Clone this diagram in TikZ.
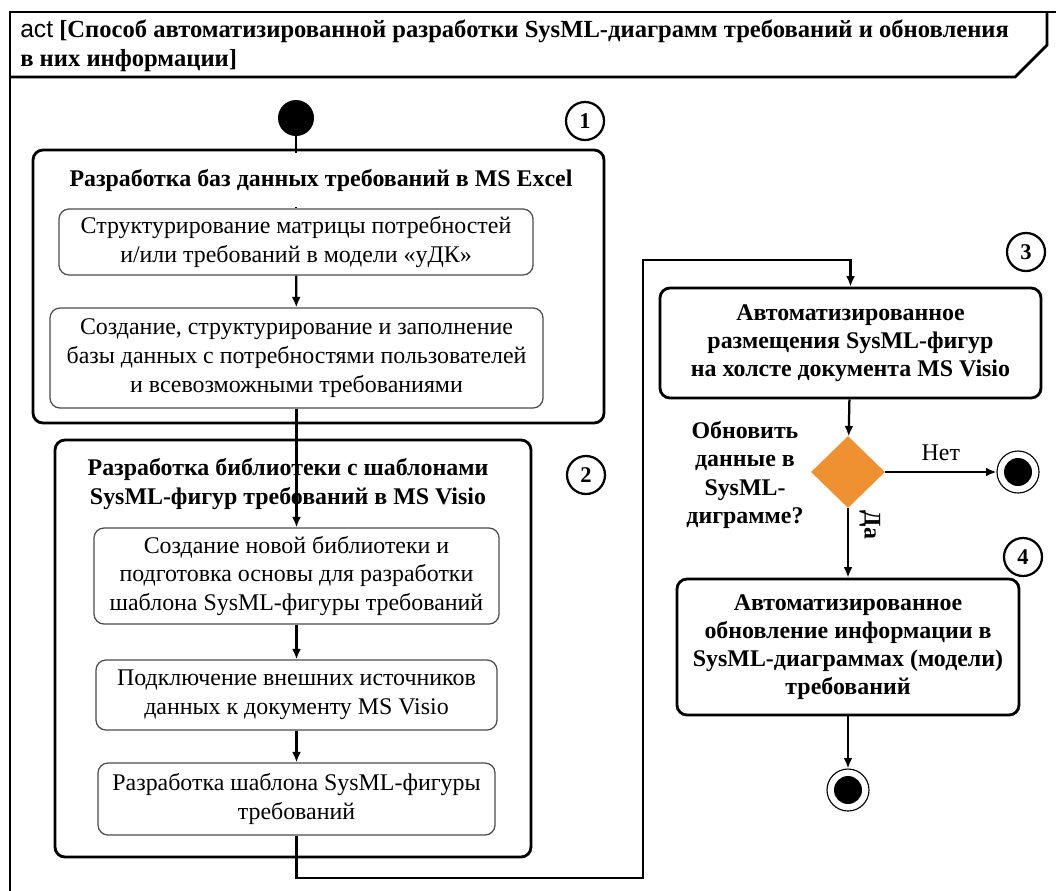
\documentclass[tikz,border=0pt]{standalone}
\usepackage{fontspec}
\setmainfont{Liberation Serif}
\newfontfamily\actfont{Liberation Sans}
\usetikzlibrary{shapes.geometric,arrows.meta}

\begin{document}
\begin{tikzpicture}[x=0.25mm,y=-0.25mm,
  every node/.style={font=\fontsize{17}{20.5}\selectfont},
  actbox/.style={draw,line width=2pt,rounded corners=2.5mm},
  subbox/.style={draw=black!70,line width=0.9pt,rounded corners=2.5mm,align=center,inner sep=1pt},
  boldbox/.style={actbox,align=center,font=\bfseries\fontsize{17}{19.8}\selectfont},
  num/.style={circle,draw,line width=1.6pt,minimum size=9.5mm,inner sep=0pt,font=\bfseries\fontsize{16}{16}\selectfont},
  flow/.style={line width=1.6pt,-{Latex[length=2.6mm,width=2.2mm]}},
  fin/.style={circle,draw,line width=0.8pt,minimum size=10.5mm,inner sep=0pt,
    path picture={\fill (path picture bounding box.center) circle (3.5mm);}}]

  \useasboundingbox (0,0) rectangle (1056,890);
  \clip (0,0) rectangle (1056,890);

  % frame and header
  \draw[line width=2pt] (10,900) -- (10,12) -- (1070,12);
  \draw[line width=2pt] (10,77) -- (1015,77) -- (1047,45) -- (1047,12);
  \node[anchor=west,align=left,inner sep=0pt,font=\fontsize{17.5}{21}\selectfont] (head) at (20,46)
    {{\actfont act} \textbf{[Способ автоматизированной разработки SysML-диаграмм требований и обновления}\\
     \textbf{в них информации]}};

  % activity 1
  \node[fill,circle,minimum size=9mm,inner sep=0pt] (init) at (296,118) {};
  \node[num] (n1) at (585,121) {1};
  \node[actbox,minimum width=142.75mm,minimum height=68.25mm] (act1) at (318.5,286.5) {};
  \node[subbox,minimum width=118.5mm,minimum height=16.5mm] (r1a) at (296,242)
    {Структурирование матрицы потребностей\\и/или требований в модели «уДК»};
  \node[subbox,minimum width=123.25mm,minimum height=25mm] (r1b) at (296.5,358)
    {Создание, структурирование и заполнение\\базы данных с потребностями пользователей\\и всевозможными требованиями};

  % activity 2
  \node[num] (n2) at (586,475) {2};
  \node[actbox,minimum width=119mm,minimum height=104.25mm] (act2) at (293,648.5) {};
  \node[align=center,font=\bfseries\fontsize{17}{20}\selectfont] (t2) at (288,484)
    {Разработка библиотеки с шаблонами\\SysML-фигур требований в MS Visio};
  \node[subbox,minimum width=101.25mm,minimum height=24mm] (r2a) at (296.5,576)
    {Создание новой библиотеки и\\подготовка основы для разработки\\шаблона SysML-фигуры требований};
  \node[subbox,minimum width=100.25mm,minimum height=17.5mm] (r2b) at (296.5,695)
    {Подключение внешних источников\\данных к документу MS Visio};
  \node[subbox,minimum width=99.25mm,minimum height=18mm] (r2c) at (296.5,799)
    {Разработка шаблона SysML-фигуры\\требований};

  % activity 3 and 4
  \node[num] (n3) at (1026,252) {3};
  \node[boldbox,minimum width=95.25mm,minimum height=27.5mm] (act3) at (850.5,343)
    {Автоматизированное\\размещения SysML-фигур\\на холсте документа MS Visio};
  \node[diamond,fill={rgb,255:red,239;green,145;blue,48},minimum width=18.5mm,minimum height=18mm,inner sep=0pt] (dec) at (848,472) {};
  \node[align=center,font=\bfseries\fontsize{17}{20}\selectfont] (ask) at (745,475)
    {Обновить\\данные в\\SysML-\\диграмме?};
  \node[fin] (fin1) at (1018,472) {};
  \node[num] (n4) at (1023,557) {4};
  \node[boldbox,minimum width=85.5mm,minimum height=34mm] (act4) at (848,647)
    {Автоматизированное\\обновление информации в\\SysML-диаграммах (модели)\\требований};
  \node[fin] (fin2) at (848,790) {};
  \coordinate (lp) at (643,260);

  % connectors
  \draw[line width=1.6pt] (init) -- (r1a);
  \draw[flow] (r1a) -- (r1b);
  \draw[flow] (r1b) -- (r2a);
  \draw[flow] (r2a) -- (r2b);
  \draw[flow] (r2b) -- (r2c);
  \draw[flow] (r2c.south) |- (643,878) -- (lp) -| (act3.north);
  \draw[flow] (act3) -- (dec);
  \draw[flow] (dec) -- node[above=4pt] (no) {Нет} (fin1);
  \draw[flow] (dec) -- (act4);
  \draw[flow] (act4) -- (fin2);
  \node[rotate=-90,font=\bfseries\fontsize{17}{20}\selectfont] (yes) at (870,525) {Да};

  % title over the line
  \node[fill=white,inner sep=1pt,minimum height=13.5mm,font=\bfseries\fontsize{17}{20}\selectfont] (t1) at (321,180)
    {Разработка баз данных требований в MS Excel};

\end{tikzpicture}
\end{document}
